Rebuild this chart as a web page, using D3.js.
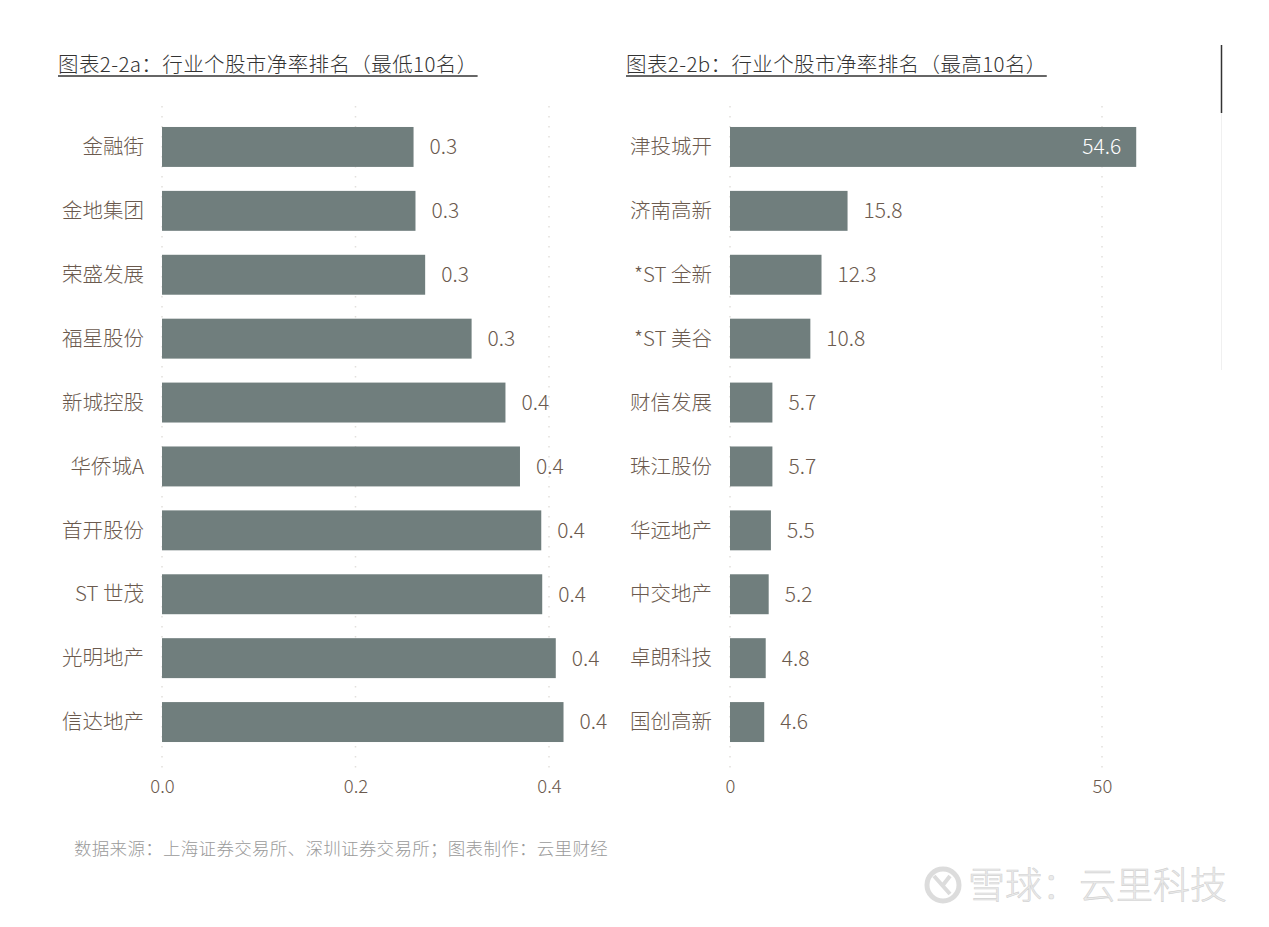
<!DOCTYPE html>
<html>
<head>
<meta charset="utf-8">
<script src="https://cdn.jsdelivr.net/npm/d3@7"></script>
<style>
body { margin: 0; background: #fff; }
text { font-family: "Noto Sans CJK SC", "Noto Sans", sans-serif; font-weight: 300; }
</style>
</head>
<body>
<svg id="chart" width="1269" height="927"></svg>
<script>
// left panel: lowest 10
var lowNames = ['金融街', '金地集团', '荣盛发展', '福星股份', '新城控股', '华侨城A', '首开股份', 'ST 世茂', '光明地产', '信达地产'];
var lowValues = [0.26, 0.262, 0.272, 0.32, 0.355, 0.37, 0.392, 0.393, 0.407, 0.415];
var lowTicks = [0, 0.2, 0.4];

// right panel: highest 10
var highNames = ['津投城开', '济南高新', '*ST 全新', '*ST 美谷', '财信发展', '珠江股份', '华远地产', '中交地产', '卓朗科技', '国创高新'];
var highValues = [54.6, 15.8, 12.3, 10.8, 5.7, 5.7, 5.5, 5.2, 4.8, 4.6];
var highTicks = [0, 50];

var titleA = '图表2-2a：行业个股市净率排名（最低10名）';
var titleB = '图表2-2b：行业个股市净率排名（最高10名）';
var source = '数据来源：上海证券交易所、深圳证券交易所；图表制作：云里财经';

var svg = d3.select('#chart');
var barColor = '#707e7d';
var textColor = '#6b5a4e';

function drawPanel(p) {
	var x = d3.scaleLinear().domain(p.domain).range([p.x0, p.x1]);
	var y = d3.scaleBand().domain(p.names).range([115, 754]).paddingInner(0.375).paddingOuter(0.1875);

	var g = svg.append('g');

	// dotted gridlines
	g.selectAll('.grid').data(p.ticks).enter().append('line')
		.attr('x1', function(d) { return x(d); })
		.attr('x2', function(d) { return x(d); })
		.attr('y1', 106).attr('y2', 770)
		.attr('stroke', '#e2e0dc')
		.attr('stroke-width', 1.5)
		.attr('stroke-dasharray', '1.5,8.5');

	g.selectAll('.bar').data(p.values).enter().append('rect')
		.attr('x', x(0))
		.attr('y', function(d, i) { return y(p.names[i]); })
		.attr('width', function(d) { return x(d) - x(0); })
		.attr('height', y.bandwidth())
		.attr('fill', barColor);

	g.selectAll('.name').data(p.names).enter().append('text')
		.attr('x', p.x0 - 18)
		.attr('y', function(d) { return y(d) + y.bandwidth() / 2; })
		.attr('dy', '0.35em')
		.attr('text-anchor', 'end')
		.attr('font-size', 20.5)
		.attr('fill', textColor)
		.text(function(d) { return d; });

	g.selectAll('.val').data(p.values).enter().append('text')
		.attr('x', function(d) { return p.inside(d) ? x(d) - 15 : x(d) + 16; })
		.attr('y', function(d, i) { return y(p.names[i]) + y.bandwidth() / 2; })
		.attr('dy', '0.35em')
		.attr('text-anchor', function(d) { return p.inside(d) ? 'end' : 'start'; })
		.attr('font-size', 21)
		.attr('fill', function(d) { return p.inside(d) ? '#fff' : textColor; })
		.text(function(d) { return d3.format(p.fmt)(d); });

	var axis = g.append('g')
		.attr('transform', 'translate(0,771)')
		.call(d3.axisBottom(x).tickValues(p.ticks).tickFormat(d3.format(p.tickFmt)).tickSize(0).tickPadding(9));
	axis.select('.domain').remove();
	axis.selectAll('text')
		.attr('font-size', 18.5)
		.attr('fill', textColor)
		.style('font-family', '"Noto Sans CJK SC", sans-serif')
		.style('font-weight', 300);

	var t = g.append('text')
		.attr('x', p.titleX)
		.attr('y', 72)
		.attr('font-size', 20.5)
		.attr('letter-spacing', 0.4)
		.attr('fill', '#333')
		.text(p.title);
	var w = t.node().getComputedTextLength();
	g.append('line')
		.attr('x1', p.titleX).attr('x2', p.titleX + w)
		.attr('y1', 76).attr('y2', 76)
		.attr('stroke', '#333').attr('stroke-width', 1.5);
}

drawPanel({
	names: lowNames, values: lowValues, ticks: lowTicks, domain: [0, 0.4],
	x0: 162, x1: 549, fmt: '.1f', tickFmt: '.1f', title: titleA, titleX: 58,
	inside: function() { return false; }
});

drawPanel({
	names: highNames, values: highValues, ticks: highTicks, domain: [0, 50],
	x0: 730, x1: 1102, fmt: '.1f', tickFmt: 'd', title: titleB, titleX: 626,
	inside: function(d) { return d > 40; }
});

// separator on the right
svg.append('line').attr('x1', 1221.5).attr('x2', 1221.5).attr('y1', 45).attr('y2', 113)
	.attr('stroke', '#333').attr('stroke-width', 1.5);
svg.append('line').attr('x1', 1221.5).attr('x2', 1221.5).attr('y1', 113).attr('y2', 370)
	.attr('stroke', '#f0f0f0').attr('stroke-width', 1);

svg.append('text')
	.attr('x', 74).attr('y', 855)
	.attr('font-size', 17.5)
	.attr('letter-spacing', 0.3)
	.attr('fill', '#9a9a9a')
	.text(source);

// watermark
var wm = svg.append('g');
wm.append('circle').attr('cx', 943).attr('cy', 885).attr('r', 16)
	.attr('fill', 'none').attr('stroke', '#dcdcdc').attr('stroke-width', 5);
wm.append('path').attr('d', 'M934 876 L950 894 M950 876 L943 885')
	.attr('stroke', '#dcdcdc').attr('stroke-width', 4).attr('fill', 'none');
wm.append('text')
	.attr('x', 968).attr('y', 899)
	.attr('font-size', 37)
	.attr('fill', '#ebebeb')
	.attr('stroke', '#d2d2d2').attr('stroke-width', 0.6)
	.text('雪球：云里科技');
</script>
</body>
</html>
